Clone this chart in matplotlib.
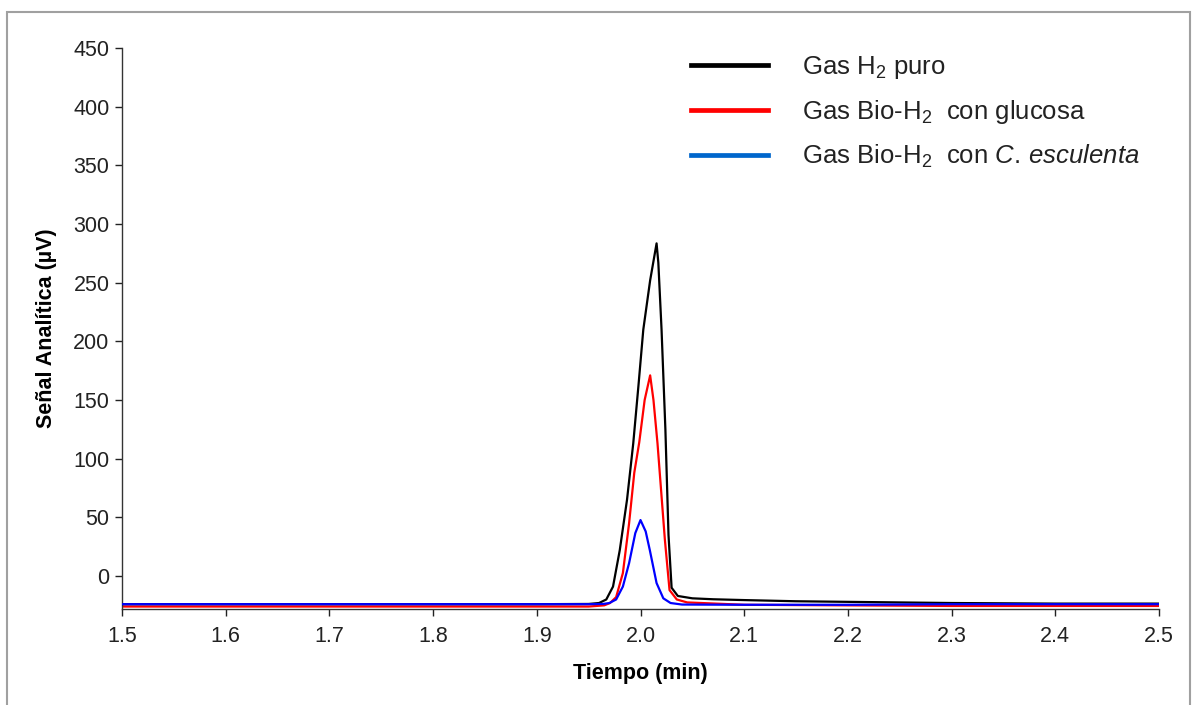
import matplotlib
matplotlib.use("Agg")
import matplotlib.pyplot as plt
from matplotlib.patches import Rectangle

plt.rcParams['font.family'] = ['Liberation Sans', 'DejaVu Sans']
plt.rcParams['mathtext.fontset'] = 'custom'
plt.rcParams['mathtext.rm'] = 'Liberation Sans'
plt.rcParams['mathtext.it'] = 'Liberation Sans:italic'
plt.rcParams['mathtext.bf'] = 'Liberation Sans:bold'

# Data
t_black = [1.50, 1.60, 1.70, 1.80, 1.90, 1.95, 1.96, 1.967, 1.9735, 1.98, 1.987, 1.993,
           1.998, 2.0027, 2.0093, 2.0155, 2.0172, 2.0203, 2.024, 2.027, 2.030, 2.036,
           2.05, 2.07, 2.10, 2.15, 2.20, 2.30, 2.40, 2.50]
y_black = [-24, -24, -24, -24, -24, -23.8, -23, -20, -9, 22, 65, 113,
           162, 210, 252, 283.5, 267, 210, 125, 35, -10, -17,
           -19, -19.8, -20.5, -21.5, -22, -23, -23.5, -23.5]

t_red = [1.50, 1.60, 1.70, 1.80, 1.90, 1.95, 1.965, 1.9706, 1.9765, 1.983, 1.989, 1.994,
         1.9988, 2.004, 2.0093, 2.0125, 2.0164, 2.0235, 2.028, 2.035, 2.045, 2.10, 2.20,
         2.30, 2.40, 2.50]
y_red = [-26, -26, -26, -26, -26, -26, -25, -23, -18, 2.5, 45, 88,
         114, 150, 171, 150, 113, 31, -12, -20, -22.5, -24.5, -25,
         -25.5, -25.5, -25.5]

t_blue = [1.50, 1.60, 1.70, 1.80, 1.90, 1.95, 1.964, 1.970, 1.9765, 1.983, 1.989, 1.995,
          2.000, 2.005, 2.009, 2.0155, 2.022, 2.029, 2.04, 2.10, 2.20, 2.30, 2.40, 2.50]
y_blue = [-24, -24, -24, -24, -24, -24, -23.8, -23, -20, -9, 11, 36.6,
          47.7, 38, 22, -6, -19, -23, -24.3, -24.5, -24.5, -24, -24, -24]

labels = [r'Gas H$_2$ puro',
          r'Gas Bio-H$_2$  con glucosa',
          r'Gas Bio-H$_2$  con $\it{C.}\,\it{esculenta}$']
colors = ['#000000', '#ff0000', '#0000ff']
legend_colors = ['#000000', '#ff0000', '#0066cc']

x_ticks = [1.5, 1.6, 1.7, 1.8, 1.9, 2.0, 2.1, 2.2, 2.3, 2.4, 2.5]
y_ticks = [0, 50, 100, 150, 200, 250, 300, 350, 400, 450]

fig = plt.figure(figsize=(11.95, 7.05), dpi=100)
ax = fig.add_axes([122 / 1195, 1 - 609 / 705, (1159 - 122) / 1195, (609 - 48) / 705])

ax.plot(t_black, y_black, color=colors[0], lw=1.6, zorder=3)
ax.plot(t_red, y_red, color=colors[1], lw=1.6, zorder=2)
ax.plot(t_blue, y_blue, color=colors[2], lw=1.6, zorder=4)

ax.set_xlim(1.5, 2.5)
ax.set_ylim(-28.1, 450)
ax.set_xticks(x_ticks)
ax.set_xticklabels([f'{v:.1f}' for v in x_ticks])
ax.set_yticks(y_ticks)
ax.tick_params(axis='both', labelsize=15.5, colors='#222222', direction='out', length=5, width=1)
ax.tick_params(axis='x', pad=7)
ax.tick_params(axis='y', pad=4)
for s in ['top', 'right']:
    ax.spines[s].set_visible(False)
for s in ['left', 'bottom']:
    ax.spines[s].set_color('#333333')
    ax.spines[s].set_linewidth(1)

ax.set_xlabel('Tiempo (min)', fontsize=15.5, fontweight='bold', labelpad=12)
ax.set_ylabel('Señal Analítica (µV)', fontsize=15.5, fontweight='bold', labelpad=12)

handles = [plt.Line2D([], [], color=c, lw=3.4) for c in legend_colors]
leg = fig.legend(handles, labels, loc='upper left', bbox_to_anchor=(678 / 1195, 1 - 41 / 705),
                 bbox_transform=fig.transFigure, frameon=False, borderpad=0,
                 fontsize=18.5, handlelength=3.0, handletextpad=1.32, labelspacing=0.66)
for txt in leg.get_texts():
    txt.set_color('#222222')

fig.patches.append(Rectangle((7 / 1195, -0.05), (1190 - 7) / 1195, 1.05 - 12 / 705,
                             transform=fig.transFigure, fill=False, edgecolor='#a0a0a0',
                             lw=1.5, zorder=0))

fig.savefig('out.png', dpi=100)
